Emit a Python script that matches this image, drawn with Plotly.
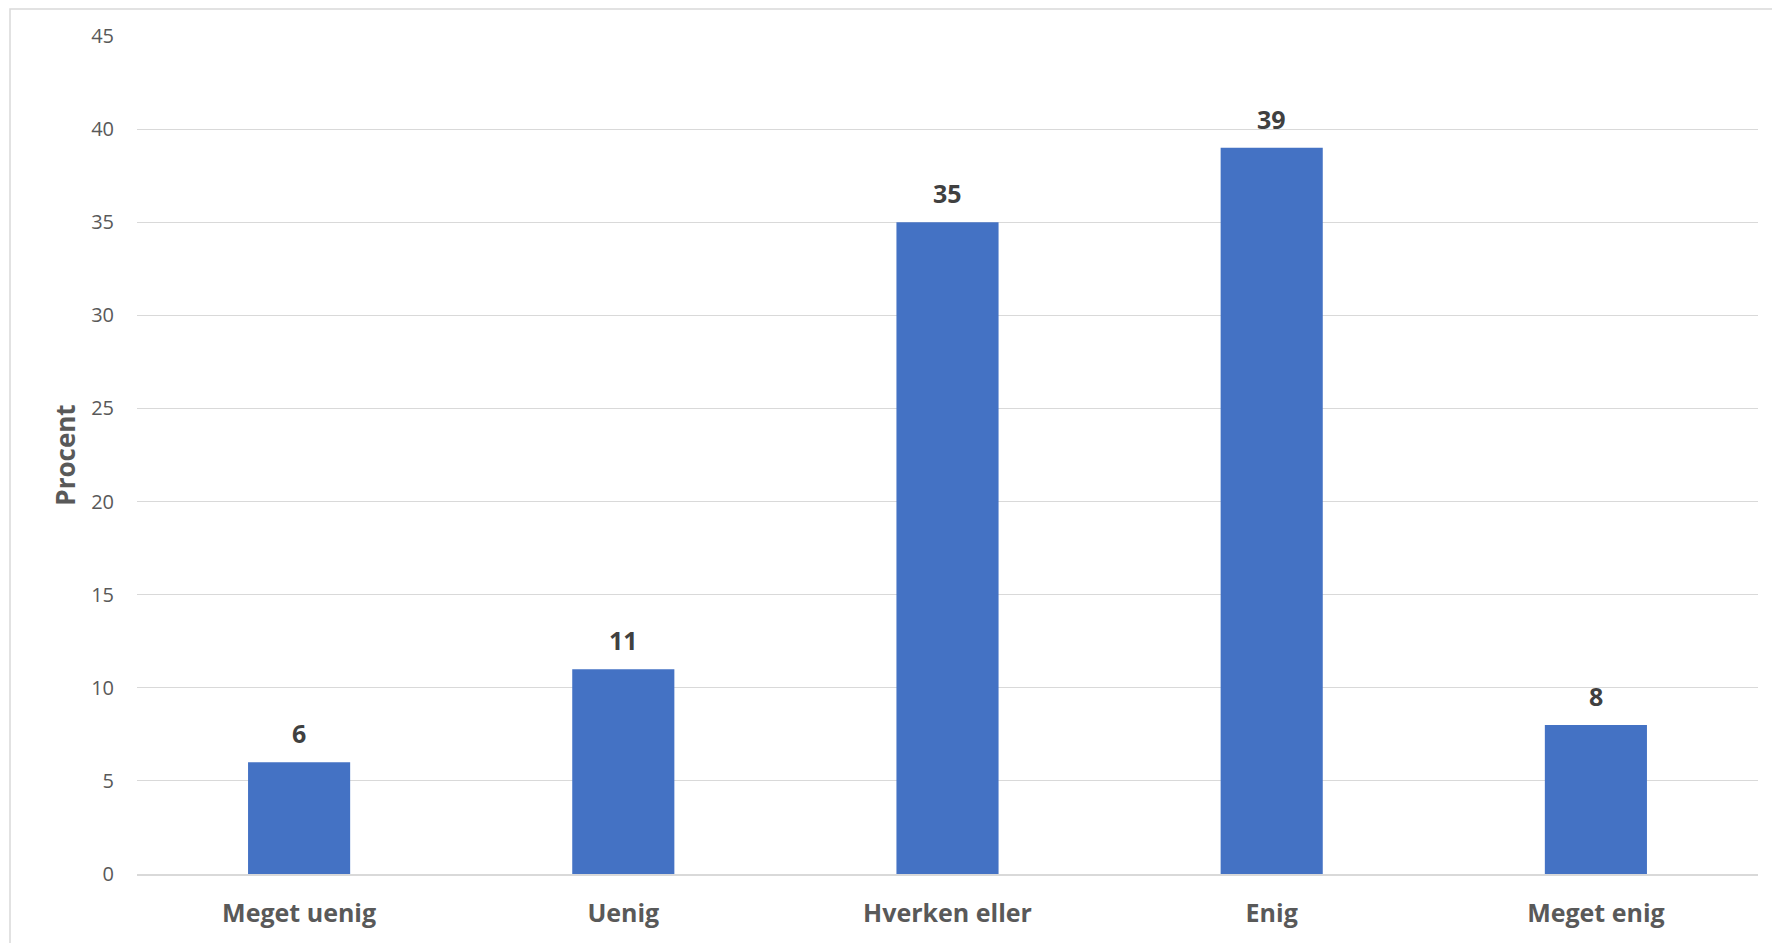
import plotly.graph_objects as go

categories = ["Meget uenig", "Uenig", "Hverken eller", "Enig", "Meget enig"]
values = [6, 11, 35, 39, 8]
y_ticks = [0, 5, 10, 15, 20, 25, 30, 35, 40, 45]

# page body has an 8px margin; compensate
W, H = 1780, 943
L, R, T, B = 129, 30, 28, 77
pw, ph = W - L - R, H - T - B

fig = go.Figure()
fig.add_trace(go.Bar(
    x=categories, y=values,
    marker=dict(color="#4472C4", line=dict(width=0)),
    width=0.315,
    hoverinfo="x+y",
))

for c, v in zip(categories, values):
    fig.add_annotation(
        x=c, y=v, text=f"<b>{v}</b>", showarrow=False,
        yanchor="bottom", yshift=10,
        font=dict(family="Open Sans, sans-serif", size=25, color="#404040"),
    )

# outer frame
fig.add_shape(
    type="rect", xref="paper", yref="paper",
    x0=(2 - L) / pw, x1=(W + 20 - L) / pw,
    y0=-(B + 20) / ph, y1=(H - 1 - B) / ph,
    line=dict(color="#d9d9d9", width=1.5), fillcolor="rgba(0,0,0,0)",
    layer="below",
)

fig.update_layout(
    width=W, height=H,
    margin=dict(l=L, r=R, t=T, b=B, pad=0),
    plot_bgcolor="white", paper_bgcolor="white",
    showlegend=False,
    font=dict(family="Open Sans, sans-serif", color="#595959"),
    xaxis=dict(
        showgrid=False, showline=True, linecolor="#d9d9d9", linewidth=1.5,
        tickfont=dict(size=25, color="#595959", family="Open Sans, sans-serif", weight="bold"),
        ticklabelstandoff=16,
    ),
    yaxis=dict(
        range=[0, 45], tickvals=y_ticks, ticktext=[str(t) for t in y_ticks],
        showgrid=True, gridcolor="#d9d9d9", gridwidth=1.3,
        zeroline=False, showline=False,
        tickfont=dict(size=20, color="#595959"),
        ticklabelstandoff=22,
        title=dict(text="<b>Procent</b>", font=dict(size=26, color="#595959"), standoff=8),
    ),
)

fig.write_html("out.html")
